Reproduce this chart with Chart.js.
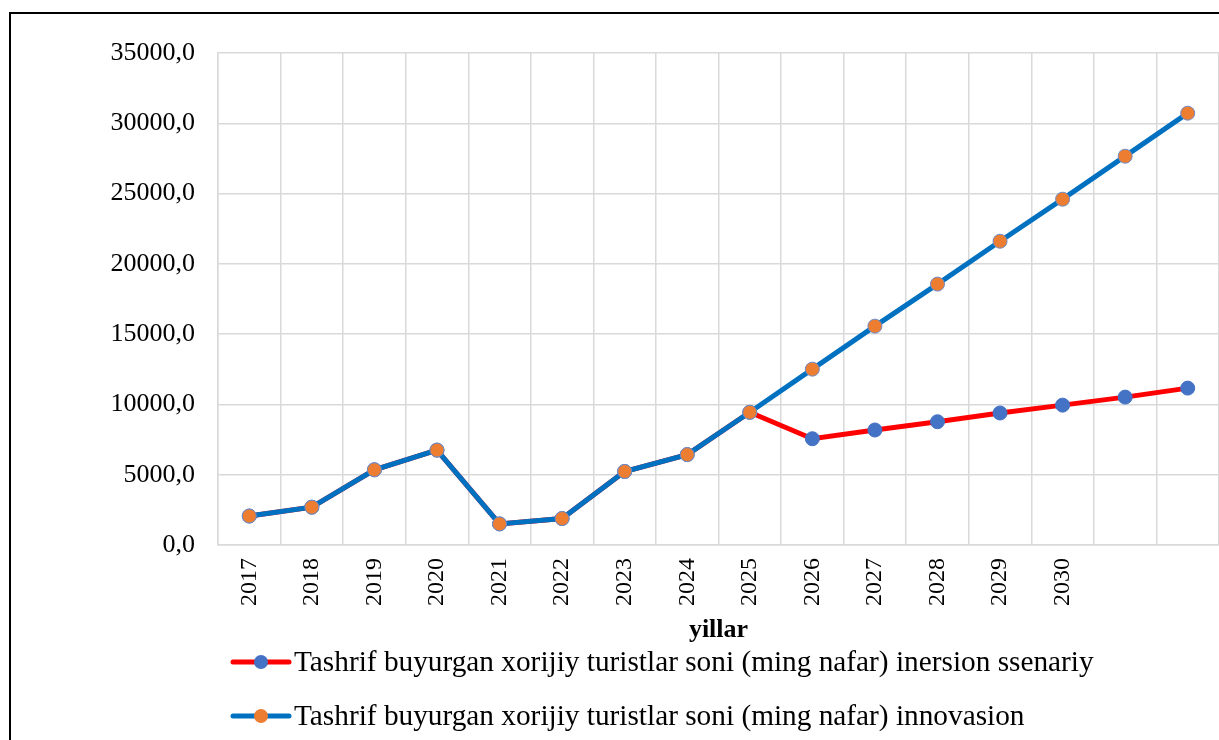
<!DOCTYPE html>
<html><head><meta charset="utf-8">
<script src="https://cdn.jsdelivr.net/npm/chart.js@4.4.1/dist/chart.umd.min.js"></script>
<style>html,body{margin:0;padding:0;background:#fff;}#wrap{width:1219px;height:740px;position:relative;overflow:hidden}</style>
</head><body><div id="wrap"><canvas id="c" width="1219" height="740"></canvas></div>
<script>
const categories = ['2017','2018','2019','2020','2021','2022','2023','2024','2025','2026','2027','2028','2029','2030','',''];
const inertialValues = [2060, 2690, 5350, 6750, 1500, 1880, 5230, 6430, 9440, 7560, 8180, 8770, 9390, 9950, 10520, 11160];
const innovationValues = [2060, 2690, 5350, 6750, 1500, 1880, 5230, 6430, 9440, 12510, 15570, 18560, 21610, 24600, 27660, 30720];
const seriesLabels = [
  'Tashrif buyurgan xorijiy turistlar soni (ming nafar) inersion ssenariy',
  'Tashrif buyurgan xorijiy turistlar soni (ming nafar) innovasion'
];
const yMin = 0, yMax = 35000, yStep = 5000;
const xTitle = 'yillar';

const FONT = "'Liberation Serif', 'Times New Roman', serif";
const GRID = '#d9d9d9';

const framePlugin = {
  id: 'frame',
  beforeDraw(chart) {
    const ctx = chart.ctx;
    ctx.save();
    ctx.fillStyle = '#fff';
    ctx.fillRect(0, 0, chart.width, chart.height);
    ctx.strokeStyle = '#000';
    ctx.lineWidth = 2;
    ctx.strokeRect(10, 13, 1400, 1000);
    ctx.restore();
  }
};

const legendPlugin = {
  id: 'customLegend',
  afterDraw(chart) {
    const ctx = chart.ctx;
    const x0 = chart.chartArea.left + 15;
    const rows = [662, 716];
    ctx.save();
    chart.data.datasets.forEach((ds, i) => {
      const y = rows[i];
      ctx.strokeStyle = ds.borderColor;
      ctx.lineWidth = 5;
      ctx.lineCap = 'round';
      ctx.beginPath();
      ctx.moveTo(x0, y);
      ctx.lineTo(x0 + 56, y);
      ctx.stroke();
      ctx.beginPath();
      ctx.arc(x0 + 28, y, 7, 0, Math.PI * 2);
      ctx.fillStyle = ds.pointBackgroundColor;
      ctx.fill();
      ctx.fillStyle = '#000';
      ctx.font = "29.3px " + FONT;
      ctx.textBaseline = 'middle';
      ctx.textAlign = 'left';
      ctx.fillText(ds.label, x0 + 61, y + 1);
    });
    ctx.restore();
  }
};

new Chart(document.getElementById('c'), {
  type: 'line',
  data: {
    labels: categories,
    datasets: [
      {
        label: seriesLabels[0],
        data: inertialValues,
        borderColor: '#FF0000',
        backgroundColor: '#FF0000',
        pointBackgroundColor: '#4472C4',
        pointBorderColor: '#4472C4',
        pointBorderWidth: 1,
        pointRadius: 7,
        borderWidth: 5,
        tension: 0,
        order: 1
      },
      {
        label: seriesLabels[1],
        data: innovationValues,
        borderColor: '#0070C0',
        backgroundColor: '#0070C0',
        pointBackgroundColor: '#ED7D31',
        pointBorderColor: '#6F8CC8',
        pointBorderWidth: 1,
        pointRadius: 7,
        borderWidth: 5,
        tension: 0,
        order: 0
      }
    ]
  },
  options: {
    responsive: false,
    animation: false,
    devicePixelRatio: 1,
    layout: { autoPadding: false, padding: { left: 0, top: 53, right: 0, bottom: 94 } },
    plugins: {
      legend: { display: false },
      tooltip: { enabled: false },
      title: { display: false }
    },
    scales: {
      x: {
        type: 'category',
        offset: true,
        grid: { display: true, offset: true, color: GRID, lineWidth: 1.5, drawTicks: false },
        border: { display: true, color: GRID, width: 1.5 },
        ticks: {
          autoSkip: false, minRotation: 90, maxRotation: 90, padding: 13,
          color: '#000', font: { family: FONT, size: 24 }
        },
        title: {
          display: true, text: xTitle, color: '#000',
          font: { family: FONT, size: 26, weight: 'bold' },
          padding: { top: 0, bottom: 0 }
        },
        afterFit(scale) { scale.height = 101; scale.paddingLeft = 0; scale.paddingRight = 0; }
      },
      y: {
        min: yMin, max: yMax,
        grid: { color: GRID, lineWidth: 1.5, drawTicks: false },
        border: { display: true, color: GRID, width: 1.5 },
        ticks: {
          stepSize: yStep, padding: 23, color: '#000',
          font: { family: FONT, size: 26 },
          callback: (v) => Number(v).toFixed(1).replace('.', ',')
        },
        afterFit(scale) { scale.width = 218; }
      }
    }
  },
  plugins: [framePlugin, legendPlugin]
});
</script></body></html>
